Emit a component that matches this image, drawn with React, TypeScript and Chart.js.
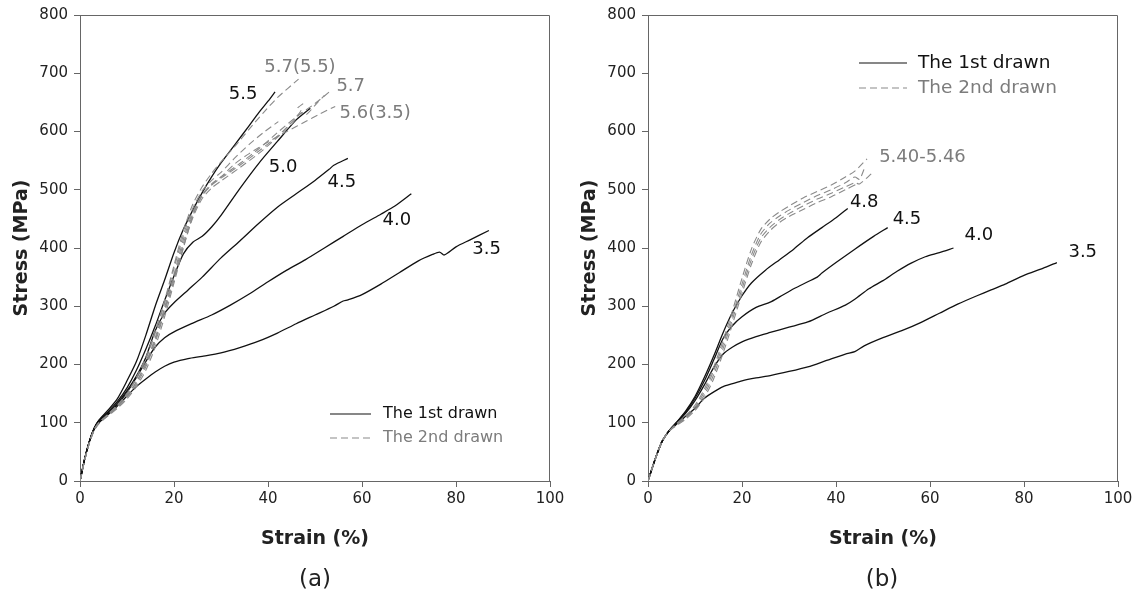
import React, { useEffect, useRef } from 'react';
import { Chart, registerables } from 'chart.js';

Chart.register(...registerables);

type P = [number, number][];

// ---------- Panel (a): strain (%), stress (MPa) ----------
// 1st drawn (solid)
const a35: P = [[0,0],[1,38],[2,68],[3,88],[4,100],[6,114],[8,129],[10,146],[12,162],[14,175],[16,187],[18,197],[20,204],[23,210],[26,214],[30,220],[34,229],[38,240],[42,254],[46,270],[50,285],[54,300],[56,309],[57,311],[60,320],[64,338],[68,358],[72,378],[75,389],[76.5,393],[77.5,388],[80,402],[83,414],[87,430]];
const a40: P = [[0,0],[1,38],[2,68],[3,90],[4,102],[6,116],[8,132],[10,152],[12,178],[14,205],[16,230],[18,246],[20,256],[24,271],[28,285],[32,302],[36,321],[40,342],[44,362],[48,380],[52,400],[56,420],[60,440],[64,458],[67,472],[70.5,493]];
const a45: P = [[0,0],[1,38],[2,68],[3,90],[4,103],[6,117],[8,134],[10,155],[12,180],[14,212],[16,258],[18,288],[20,306],[23,328],[26,350],[30,383],[34,412],[38,442],[42,470],[46,493],[50,516],[53,535],[54,542],[57,554]];
const a50: P = [[0,0],[1,38],[2,68],[3,90],[4,104],[6,119],[8,137],[10,160],[12,190],[14,226],[16,266],[18,310],[20,352],[22,390],[24,410],[26,420],[28,436],[30,456],[34,502],[38,545],[42,583],[46,620],[49,640]];
const a55: P = [[0,0],[1,38],[2,68],[3,90],[4,104],[6,122],[8,142],[10,172],[12,205],[14,250],[16,300],[18,345],[20,392],[22,432],[24,465],[26,495],[28,522],[30,546],[33,578],[36,610],[38,632],[40,652],[41.5,668]];
// 2nd drawn (dashed)
const a57_55: P = [[0,0],[1,36],[2,66],[3,88],[4,100],[6,114],[8,130],[10,150],[12,178],[14,212],[16,258],[18,310],[20,370],[22,430],[24,475],[26,505],[28,528],[30,548],[33,575],[36,604],[39,632],[42,658],[46.5,690]];
const a57a: P = [[0,0],[1,36],[2,66],[3,88],[4,100],[6,114],[8,128],[10,146],[12,170],[14,202],[16,246],[18,298],[20,355],[22,415],[24,462],[26,492],[28,510],[30,522],[34,545],[38,570],[42,598],[46,625],[50,648],[53.5,671]];
const a57b: P = [[0,0],[1,36],[2,65],[3,87],[4,99],[6,113],[8,127],[10,144],[12,166],[14,196],[16,238],[18,290],[20,345],[22,402],[24,452],[26,485],[28,503],[30,515],[34,538],[38,562],[42,590],[45,612],[47,632],[48,628],[50,645],[52,662]];
const a56_35: P = [[0,0],[1,36],[2,65],[3,86],[4,98],[6,112],[8,125],[10,141],[12,162],[14,190],[16,230],[18,282],[20,340],[22,400],[24,455],[26,490],[28,508],[30,522],[33,545],[36,562],[40,582],[44,600],[48,617],[51,630],[54.3,643]];
const a57c: P = [[0,0],[1,36],[2,66],[3,88],[4,100],[6,115],[8,131],[10,150],[12,175],[14,208],[16,254],[18,305],[20,365],[22,422],[24,468],[26,498],[28,516],[30,530],[33,555],[36,578],[39,598],[42.2,617]];
const a57d: P = [[0,0],[1,36],[2,66],[3,87],[4,99],[6,113],[8,128],[10,146],[12,170],[14,200],[16,242],[18,294],[20,350],[22,408],[24,458],[26,490],[28,508],[30,520],[34,542],[38,566],[42,592],[44,607],[46,625],[47,636],[46.3,640],[47.5,648]];

const aLabelText = ['5.5', '5.7(5.5)', '5.7', '5.6(3.5)', '5.0', '4.5', '4.0', '3.5'];
const aLabelX = [34.7, 46.8, 57.6, 62.8, 43.2, 55.7, 67.4, 86.5];
const aLabelY = [663, 711, 677, 632, 538, 513, 448, 398];
const aLabelGray = [false, true, true, true, false, false, false, false];

// ---------- Panel (b) ----------
const b35: P = [[0,0],[1,25],[2,48],[3,68],[4,81],[5,90],[6,97],[8,111],[10,125],[12,142],[14,153],[16,162],[18,167],[20,172],[23,177],[26,181],[30,188],[34,196],[38,207],[42,218],[44,222],[46,232],[50,246],[54,258],[58,272],[62,288],[66,304],[70,318],[73,328],[76,338],[80,353],[84,365],[87,375]];
const b40: P = [[0,0],[1,25],[2,48],[3,68],[4,81],[5,91],[6,99],[8,116],[10,138],[12,165],[14,195],[16,218],[18,230],[20,239],[23,248],[26,255],[30,264],[34,273],[38,288],[42,302],[44,312],[47,330],[50,344],[53,360],[56,374],[59,385],[62,392],[65,400]];
const b45: P = [[0,0],[1,25],[2,48],[3,68],[4,81],[5,91],[6,100],[8,118],[10,142],[12,172],[14,208],[16,245],[18,267],[20,282],[23,298],[26,307],[28,316],[31,330],[34,342],[36,350],[37,357],[40,375],[44,398],[48,420],[51,435]];
const b48: P = [[0,0],[1,25],[2,48],[3,68],[4,81],[5,91],[6,100],[8,120],[10,145],[12,178],[14,215],[16,255],[18,290],[20,318],[22,340],[25,362],[28,380],[31,398],[34,418],[37,435],[40,452],[42.5,468]];
const b54a: P = [[0,0],[1,25],[2,48],[3,68],[4,81],[5,90],[6,98],[8,112],[10,130],[12,158],[14,196],[16,242],[18,293],[20,348],[22,398],[24,432],[26,450],[28,462],[30,472],[33,486],[36,497],[39,508],[42,522],[44,532],[46.6,553]];
const b54b: P = [[0,0],[1,25],[2,48],[3,68],[4,81],[5,90],[6,97],[8,110],[10,127],[12,153],[14,190],[16,235],[18,285],[20,338],[22,388],[24,424],[26,443],[28,455],[30,465],[33,478],[36,490],[39,500],[42,512],[44,522],[45,518],[46.2,540]];
const b54c: P = [[0,0],[1,25],[2,48],[3,68],[4,81],[5,89],[6,96],[8,108],[10,124],[12,148],[14,183],[16,228],[18,278],[20,330],[22,380],[24,417],[26,436],[28,449],[30,459],[33,472],[36,484],[39,494],[42,505],[44,512],[45,510],[47.6,528]];
const b54d: P = [[0,0],[1,25],[2,48],[3,68],[4,81],[5,89],[6,95],[8,106],[10,121],[12,143],[14,176],[16,220],[18,270],[20,322],[22,372],[24,410],[26,430],[28,444],[30,454],[33,466],[36,478],[39,488],[42,500],[44.5,510]];

const bLabelText = ['5.40-5.46', '4.8', '4.5', '4.0', '3.5'];
const bLabelX = [58.4, 46.0, 55.1, 70.4, 92.5];
const bLabelY = [556, 479, 450, 422, 393];
const bLabelGray = [true, false, false, false, false];

// axes
const xTickStep = 20;
const yTickStep = 100;
const xMax = 100;
const yMax = 800;
const legendNames = ['The 1st drawn', 'The 2nd drawn'];
const xTitle = 'Strain (%)';
const yTitle = 'Stress (MPa)';

const LINE = '#111111';
const DASH = '#8a8a8a';
const GRAY_TXT = '#7c7c7c';
const AXIS = '#666666';
const FONT = '"DejaVu Sans", Verdana, sans-serif';

const mk = (pts: P, dashed: boolean) => ({
  data: pts.map(([x, y]) => ({ x, y })),
  borderColor: dashed ? DASH : LINE,
  borderWidth: dashed ? 1.1 : 1.3,
  borderDash: dashed ? [7, 4] : [],
  pointRadius: 0,
  tension: 0.25,
  fill: false,
});

type Leg = { l1: number; l2: number; tx: number; r1: number; r2: number; size: number };

function makePlugin(texts: string[], lx: number[], ly: number[], gray: boolean[], leg: Leg) {
  return {
    id: 'annot',
    afterDatasetsDraw(chart: any) {
      const { ctx, chartArea: ca, scales } = chart;
      const xs = scales.x, ys = scales.y;
      ctx.save();
      ctx.strokeStyle = AXIS;
      ctx.lineWidth = 1;
      ctx.setLineDash([]);
      ctx.beginPath();
      ctx.moveTo(ca.left, ca.top + 0.5);
      ctx.lineTo(ca.right - 0.5, ca.top + 0.5);
      ctx.lineTo(ca.right - 0.5, ca.bottom);
      ctx.stroke();
      ctx.font = `18px ${FONT}`;
      ctx.textAlign = 'center';
      ctx.textBaseline = 'middle';
      texts.forEach((t, i) => {
        ctx.fillStyle = gray[i] ? GRAY_TXT : LINE;
        ctx.fillText(t, xs.getPixelForValue(lx[i]), ys.getPixelForValue(ly[i]));
      });
      // legend
      ctx.font = `${leg.size}px ${FONT}`;
      ctx.textAlign = 'left';
      const rows = [leg.r1, leg.r2];
      rows.forEach((r, i) => {
        const yy = ca.top + r;
        ctx.strokeStyle = i === 0 ? LINE : DASH;
        ctx.lineWidth = 1.2;
        ctx.setLineDash(i === 0 ? [] : [7, 4]);
        ctx.beginPath();
        ctx.moveTo(ca.left + leg.l1, yy);
        ctx.lineTo(ca.left + leg.l2, yy);
        ctx.stroke();
        ctx.fillStyle = i === 0 ? LINE : GRAY_TXT;
        ctx.fillText(legendNames[i], ca.left + leg.tx, yy);
      });
      ctx.restore();
    },
  };
}

function Panel(props: {
  left: number;
  sets: { pts: P; dashed: boolean }[];
  texts: string[];
  lx: number[];
  ly: number[];
  gray: boolean[];
  leg: Leg;
}) {
  const ref = useRef<HTMLCanvasElement>(null);
  useEffect(() => {
    const ordered = [...props.sets.filter((s) => s.dashed), ...props.sets.filter((s) => !s.dashed)];
    const chart = new Chart(ref.current as HTMLCanvasElement, {
      type: 'line',
      data: { datasets: ordered.map((s) => mk(s.pts, s.dashed)) as any },
      options: {
        animation: false,
        responsive: false,
        layout: { padding: { top: 13, left: 0, right: 18, bottom: 0 } },
        plugins: { legend: { display: false }, tooltip: { enabled: false }, title: { display: false } },
        scales: {
          x: {
            type: 'linear',
            min: 0,
            max: xMax,
            afterFit: (s: any) => { s.height = 117; },
            ticks: { stepSize: xTickStep, color: '#222', font: { family: FONT, size: 15 }, padding: 3, maxRotation: 0 },
            grid: { drawOnChartArea: false, drawTicks: true, tickLength: 6, color: AXIS },
            border: { display: true, color: AXIS, width: 1 },
            title: { display: true, text: xTitle, color: '#222', font: { family: FONT, size: 19, weight: 'bold' }, padding: { top: 0, bottom: 48 } },
          },
          y: {
            type: 'linear',
            min: 0,
            max: yMax,
            afterFit: (s: any) => { s.width = 80; },
            ticks: { stepSize: yTickStep, color: '#222', font: { family: FONT, size: 15 }, padding: 6 },
            grid: { drawOnChartArea: false, drawTicks: true, tickLength: 6, color: AXIS },
            border: { display: true, color: AXIS, width: 1 },
            title: { display: true, text: yTitle, color: '#222', font: { family: FONT, size: 19, weight: 'bold' }, padding: { top: 11, bottom: 0 } },
          },
        },
      } as any,
      plugins: [makePlugin(props.texts, props.lx, props.ly, props.gray, props.leg)],
    });
    return () => chart.destroy();
  }, []);
  return <canvas ref={ref} width={568} height={598} style={{ position: 'absolute', left: props.left, top: 0 }} />;
}

export default function App() {
  const setsA = [
    { pts: a35, dashed: false }, { pts: a40, dashed: false }, { pts: a45, dashed: false },
    { pts: a50, dashed: false }, { pts: a55, dashed: false },
    { pts: a57_55, dashed: true }, { pts: a57a, dashed: true }, { pts: a57b, dashed: true },
    { pts: a56_35, dashed: true }, { pts: a57c, dashed: true }, { pts: a57d, dashed: true },
  ];
  const setsB = [
    { pts: b35, dashed: false }, { pts: b40, dashed: false }, { pts: b45, dashed: false }, { pts: b48, dashed: false },
    { pts: b54a, dashed: true }, { pts: b54b, dashed: true }, { pts: b54c, dashed: true }, { pts: b54d, dashed: true },
  ];
  const cap: React.CSSProperties = {
    position: 'absolute', top: 564, width: 100, textAlign: 'center',
    fontFamily: FONT, fontSize: 23, lineHeight: '28px', color: '#222',
  };
  return (
    <div style={{ position: 'absolute', left: 0, top: 0, width: 1136, height: 598, background: '#fff', overflow: 'hidden' }}>
      <Panel left={0} sets={setsA} texts={aLabelText} lx={aLabelX} ly={aLabelY} gray={aLabelGray}
        leg={{ l1: 250, l2: 291, tx: 303, r1: 399, r2: 423, size: 16 }} />
      <Panel left={568} sets={setsB} texts={bLabelText} lx={bLabelX} ly={bLabelY} gray={bLabelGray}
        leg={{ l1: 211, l2: 259, tx: 270, r1: 48, r2: 73, size: 18.5 }} />
      <div style={{ ...cap, left: 265 }}>(a)</div>
      <div style={{ ...cap, left: 832 }}>(b)</div>
    </div>
  );
}
